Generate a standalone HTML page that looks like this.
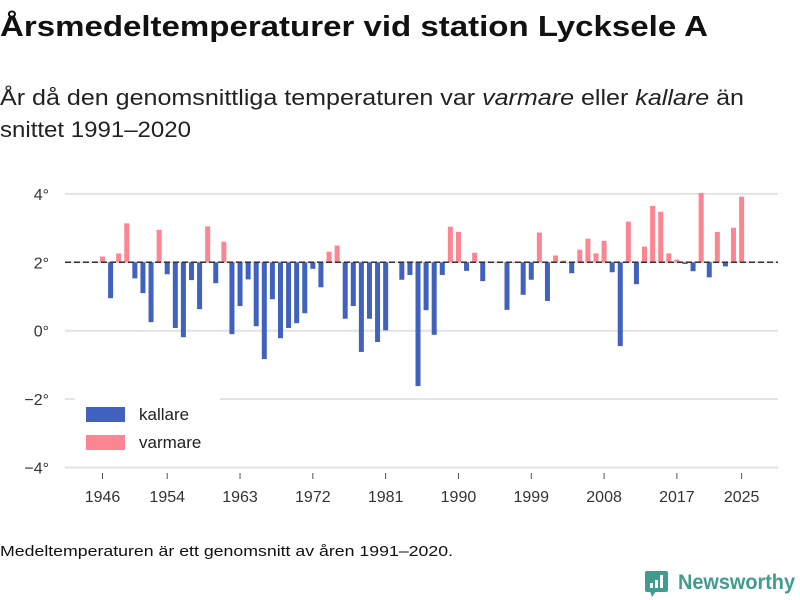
<!DOCTYPE html>
<html><head><meta charset="utf-8"><style>
body{margin:0;background:#fff;}
svg{display:block;font-family:"Liberation Sans",sans-serif;}
</style></head><body>
<svg id="chart" width="800" height="600" xmlns="http://www.w3.org/2000/svg">
<text x="0" y="36" font-size="29" font-weight="bold" fill="#111" textLength="708" lengthAdjust="spacingAndGlyphs">Årsmedeltemperaturer vid station Lycksele A</text>
<text x="0" y="105" font-size="22" fill="#222" textLength="744" lengthAdjust="spacingAndGlyphs">År då den genomsnittliga temperaturen var <tspan font-style="italic">varmare</tspan> eller <tspan font-style="italic">kallare</tspan> än</text>
<text x="0" y="137" font-size="22" fill="#222" textLength="191" lengthAdjust="spacingAndGlyphs">snittet 1991–2020</text>
<g id="grid"></g><g id="bars"></g><g id="axes"></g>
<g>
<rect x="75" y="397" width="145" height="56" fill="#fff"/>
<rect x="86" y="407" width="39" height="15" fill="#4061bd"/>
<text x="139" y="420" font-size="17" fill="#222">kallare</text>
<rect x="86" y="435" width="39" height="15" fill="#fc8592"/>
<text x="139" y="448" font-size="17" fill="#222">varmare</text>
</g>
<text x="0" y="556" font-size="15" fill="#111" textLength="453" lengthAdjust="spacingAndGlyphs">Medeltemperaturen är ett genomsnitt av åren 1991–2020.</text>
<g>
<rect x="645" y="571" width="23" height="21" rx="2" fill="#3f9c8f"/>
<polygon points="650,591 656,591 652,597" fill="#3f9c8f"/>
<rect x="650" y="583" width="3" height="5" fill="#fff"/><rect x="655" y="580" width="3" height="8" fill="#fff"/><rect x="660" y="575" width="3" height="13" fill="#fff"/>
<text x="678" y="589" font-size="21" font-weight="bold" fill="#3f9c8f" textLength="117" lengthAdjust="spacingAndGlyphs">Newsworthy</text>
</g>
</svg>
<script>
const years=[];for(let y=1946;y<=2025;y++)years.push(y);
const temps=[2.17,0.95,2.26,3.14,1.53,1.10,0.25,2.95,1.65,0.08,-0.19,1.48,0.63,3.05,1.39,2.60,-0.10,0.72,1.50,0.13,-0.83,0.92,-0.22,0.08,0.22,0.51,1.81,1.27,2.31,2.49,0.35,0.72,-0.62,0.35,-0.33,0.01,null,1.49,1.63,-1.62,0.60,-0.12,1.63,3.04,2.89,1.75,2.28,1.45,2.0,2.0,0.61,2.0,1.05,1.49,2.87,0.87,2.20,2.05,1.68,2.37,2.69,2.26,2.63,1.71,-0.45,3.19,1.36,2.46,3.65,3.48,2.26,2.08,1.95,1.74,4.03,1.56,2.89,1.88,3.01,3.92];
const avg=2.0;
const yTicks=[4,2,0,-2,-4];
const xTicks=[1946,1954,1963,1972,1981,1990,1999,2008,2017,2025];
const NS="http://www.w3.org/2000/svg";
const yS=v=>330.7-v*34.2;
const xS=yr=>102.5+(yr-1946)*8.09;
function mk(t,a,p){const e=document.createElementNS(NS,t);for(const k in a)e.setAttribute(k,a[k]);document.getElementById(p).appendChild(e);return e;}
yTicks.forEach(v=>{
 const l=mk('line',{x1:65,x2:778,y1:yS(v),y2:yS(v),stroke:'#e2e2e2','stroke-width':2},'grid');
 
 
 const t=mk('text',{x:49,y:yS(v)+6,'font-size':16,fill:'#333','text-anchor':'end'},'axes');
 t.textContent=(v<0?'−'+(-v):v)+'°';
 
 
});
years.forEach((yr,i)=>{
 const v=temps[i];if(v===null)return;
 const top=Math.min(yS(v),yS(avg)),h=Math.max(Math.abs(yS(v)-yS(avg)),0.8);
 const r=mk('rect',{x:xS(yr)-2.5,y:top,width:5,height:h,fill:v>=avg?'#fc8592':'#4061bd'},'bars');
 
 
});
const al=mk('line',{x1:65,x2:778,y1:yS(avg),y2:yS(avg),stroke:'#333','stroke-width':1.5,'stroke-dasharray':'6,3'},'axes');


xTicks.forEach(yr=>{
 const tk=mk('line',{x1:xS(yr),x2:xS(yr),y1:473,y2:479,stroke:'#555','stroke-width':1},'axes');
 
 
 const t=mk('text',{x:xS(yr),y:502,'font-size':16,fill:'#333','text-anchor':'middle'},'axes');
 t.textContent=yr;
 
 
});
</script>
</body></html>
